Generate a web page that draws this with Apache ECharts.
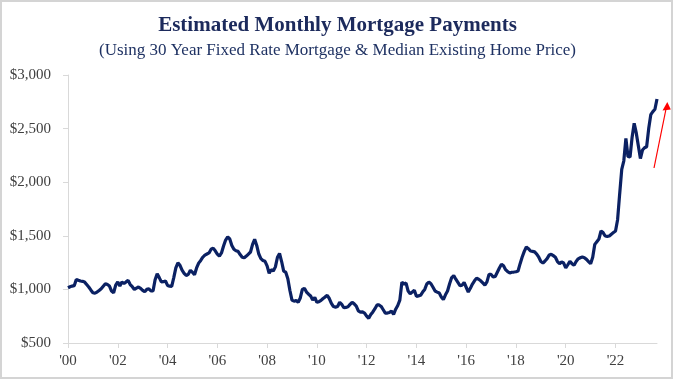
<!DOCTYPE html>
<html>
<head>
<meta charset="utf-8">
<script src="https://cdn.jsdelivr.net/npm/echarts@6/dist/echarts.min.js"></script>
<style>html,body{margin:0;padding:0;background:#fff;}#chart{width:675px;height:382px;}</style>
</head>
<body>
<div id="chart"></div>
<script>
// Monthly estimated mortgage payment ($), Jan 2000 .. Sep 2023
const payments = [
  1015,1025,1031,1035,1093,1085,1078,1075,1068,1045,1022,995,   // 2000
  969,965,975,990,1006,1030,1053,1045,1031,985,969,1040,        // 2001
  1070,1031,1068,1055,1070,1084,1045,1025,1000,1012,1022,1010,  // 2002
  991,978,1000,1006,985,985,1090,1145,1110,1070,1072,1078,      // 2003
  1037,1030,1028,1110,1200,1248,1225,1180,1150,1130,1140,1178,  // 2004
  1160,1137,1200,1245,1270,1300,1320,1330,1340,1375,1385,1360,  // 2005
  1330,1311,1340,1405,1460,1489,1470,1410,1374,1360,1355,1325,  // 2006
  1300,1295,1311,1330,1349,1420,1467,1410,1330,1287,1270,1262,  // 2007
  1220,1150,1184,1172,1210,1300,1335,1260,1170,1160,1100,990,   // 2008
  900,890,897,880,920,1000,1010,975,955,938,900,925,            // 2009
  880,885,897,915,930,944,915,870,840,835,840,880,              // 2010
  860,829,832,838,860,880,865,845,800,788,790,779,              // 2011
  750,730,765,790,820,855,855,841,810,779,779,785,              // 2012
  797,768,815,850,900,1068,1050,1059,985,960,975,993,           // 2013
  935,940,945,975,1000,1050,1068,1053,1020,985,975,966,         // 2014
  930,905,950,985,1053,1110,1128,1095,1065,1035,1040,1065,      // 2015
  1020,975,1010,1050,1080,1105,1095,1080,1060,1040,1070,1140,   // 2016
  1140,1115,1120,1160,1200,1235,1220,1184,1165,1153,1160,1162,  // 2017
  1165,1172,1240,1302,1355,1395,1380,1358,1355,1350,1330,1300,  // 2018
  1260,1246,1265,1287,1320,1327,1315,1300,1260,1240,1256,1246,  // 2019
  1200,1230,1262,1240,1225,1260,1285,1295,1302,1295,1280,1260,  // 2020
  1240,1300,1420,1445,1470,1545,1530,1498,1495,1498,1515,1530,  // 2021
  1545,1650,1890,2120,2200,2409,2240,2235,2420,2549,2460,2340,  // 2022
  2220,2300,2321,2331,2500,2630,2658,2680,2776                  // 2023
];
const startYear = 2000;
const tickLabels = ["'00","'02","'04","'06","'08","'10","'12","'14","'16","'18","'20","'22"];
const yTicks = [500, 1000, 1500, 2000, 2500, 3000];

const months = payments.map((_, i) => {
  const y = startYear + Math.floor(i / 12), m = (i % 12) + 1;
  return y + '-' + (m < 10 ? '0' + m : m);
});

const serif = "'Liberation Serif', 'DejaVu Serif', serif";
const navy = '#0b2163';
const axisGray = '#d9d9d9';

const chart = echarts.init(document.getElementById('chart'));
chart.setOption({
  animation: false,
  backgroundColor: '#ffffff',
  title: [
    { text: 'Estimated Monthly Mortgage Payments', left: 'center', top: 10,
      textStyle: { fontFamily: serif, fontSize: 21, fontWeight: 'bold', color: '#1c2a5c' } },
    { text: '(Using 30 Year Fixed Rate Mortgage & Median Existing Home Price)', left: 'center', top: 37,
      textStyle: { fontFamily: serif, fontSize: 17, fontWeight: 'normal', color: '#1f3263' } }
  ],
  grid: { left: 68, right: 18, top: 75, bottom: 39 },
  xAxis: {
    type: 'category',
    data: months,
    boundaryGap: false,
    axisLine: { lineStyle: { color: axisGray, width: 1 } },
    axisTick: { interval: 23, length: 5, lineStyle: { color: axisGray } },
    axisLabel: {
      interval: 23, margin: 11, color: '#404040', fontFamily: serif, fontSize: 15,
      formatter: (v, idx) => tickLabels[Math.round(idx / 24)] || ''
    },
    splitLine: { show: false }
  },
  yAxis: {
    type: 'value',
    min: yTicks[0], max: yTicks[yTicks.length - 1], interval: 500,
    axisLine: { show: true, lineStyle: { color: axisGray, width: 1 } },
    axisTick: { show: true, length: 5, lineStyle: { color: axisGray } },
    axisLabel: {
      margin: 17, color: '#404040', fontFamily: serif, fontSize: 15,
      formatter: v => '$' + v.toLocaleString('en-US')
    },
    splitLine: { show: false }
  },
  series: [{
    type: 'line',
    data: payments,
    showSymbol: false,
    smooth: false,
    lineStyle: { color: navy, width: 3.2 },
    itemStyle: { color: navy }
  }],
  graphic: [
    { type: 'rect', shape: { x: 1, y: 1, width: 671, height: 377 },
      style: { fill: 'none', stroke: '#d4d4d4', lineWidth: 2 }, silent: true },
    { type: 'line', shape: { x1: 654, y1: 168, x2: 666, y2: 109 },
      style: { stroke: '#ff0000', lineWidth: 1.2 }, silent: true },
    { type: 'polygon', shape: { points: [[667.3, 102], [662.5, 110.5], [670.8, 109.5]] },
      style: { fill: '#ff0000' }, silent: true }
  ]
});
</script>
</body>
</html>
